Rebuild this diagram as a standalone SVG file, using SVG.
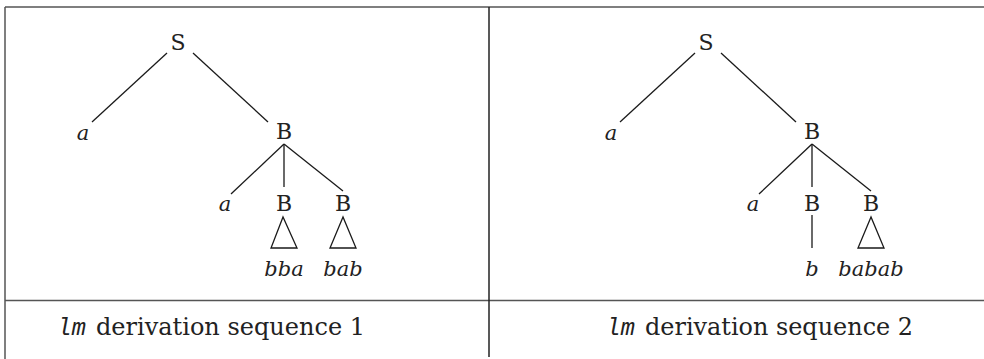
<svg xmlns="http://www.w3.org/2000/svg" width="984" height="359" viewBox="0 0 984 359">
<style>
.frame{stroke:#555;stroke-width:1.5;fill:none}
.edge{stroke:#1a1a1a;stroke-width:1.3;fill:none}
.nt{font-family:"DejaVu Serif","Liberation Serif",serif;font-size:22px;fill:#222;text-anchor:middle}
.t{font-family:"DejaVu Serif","Liberation Serif",serif;font-style:italic;font-size:21px;fill:#222;text-anchor:middle}
.cap{font-family:"DejaVu Serif","Liberation Serif",serif;font-size:25px;fill:#222}
.tt{font-family:"Liberation Mono","DejaVu Sans Mono",monospace;font-style:italic;font-size:24px;fill:#222}
</style>
<g id="frame">
<line class="frame" x1="5" y1="7" x2="984" y2="7"/>
<line class="frame" x1="5" y1="7" x2="5" y2="359"/>
<line class="frame" x1="5" y1="300.5" x2="984" y2="300.5"/>
<line x1="489" y1="7" x2="489" y2="357" stroke="#222" stroke-width="1.5"/>
</g>
<g id="connectors">
<line class="edge" x1="167" y1="53" x2="92" y2="122"/>
<line class="edge" x1="193" y1="53" x2="268" y2="122"/>
<line class="edge" x1="284" y1="144" x2="231" y2="194"/>
<line class="edge" x1="284" y1="144" x2="284" y2="187"/>
<line class="edge" x1="284" y1="144" x2="343" y2="191"/>
<polygon class="edge" points="283,217 271,248 297,248"/>
<polygon class="edge" points="343,217 330,248 356,248"/>
<line class="edge" x1="695" y1="53" x2="620" y2="122"/>
<line class="edge" x1="721" y1="53" x2="796" y2="122"/>
<line class="edge" x1="812" y1="144" x2="759" y2="194"/>
<line class="edge" x1="812" y1="144" x2="812" y2="187"/>
<line class="edge" x1="812" y1="144" x2="871" y2="191"/>
<line class="edge" x1="812" y1="215" x2="812" y2="248"/>
<polygon class="edge" points="871,217 858,248 884,248"/>
</g>
<g id="tree1">
<g id="t1-S"><text class="nt" x="178" y="50">S</text></g>
<g id="t1-a1"><text class="t" x="83" y="140">a</text></g>
<g id="t1-B1"><text class="nt" x="284" y="139">B</text></g>
<g id="t1-a2"><text class="t" x="225" y="211">a</text></g>
<g id="t1-B2"><text class="nt" x="284" y="211">B</text></g>
<g id="t1-B3"><text class="nt" x="343" y="211">B</text></g>
<g id="t1-bba"><text class="t" x="284" y="276">bba</text></g>
<g id="t1-bab"><text class="t" x="343" y="276">bab</text></g>
</g>
<g id="tree2">
<g id="t2-S"><text class="nt" x="706" y="50">S</text></g>
<g id="t2-a1"><text class="t" x="611" y="140">a</text></g>
<g id="t2-B1"><text class="nt" x="812" y="139">B</text></g>
<g id="t2-a2"><text class="t" x="753" y="211">a</text></g>
<g id="t2-B2"><text class="nt" x="812" y="211">B</text></g>
<g id="t2-B3"><text class="nt" x="871" y="211">B</text></g>
<g id="t2-b"><text class="t" x="812" y="276">b</text></g>
<g id="t2-babab"><text class="t" x="871" y="276">babab</text></g>
</g>
<g id="caption1">
<text x="57" y="335"><tspan class="tt">lm</tspan><tspan class="cap" x="96" textLength="269" lengthAdjust="spacingAndGlyphs">derivation sequence 1</tspan></text>
</g>
<g id="caption2">
<text x="606" y="335"><tspan class="tt">lm</tspan><tspan class="cap" x="645" textLength="268" lengthAdjust="spacingAndGlyphs">derivation sequence 2</tspan></text>
</g>
</svg>
